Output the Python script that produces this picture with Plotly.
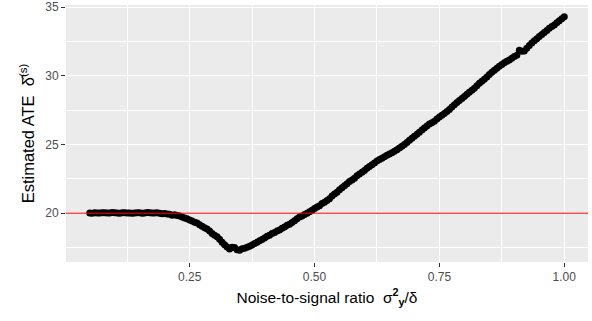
import plotly.graph_objects as go

ratio = [0.050, 0.055, 0.060, 0.065, 0.070, 0.075, 0.080, 0.085, 0.090, 0.095,
         0.100, 0.105, 0.110, 0.115, 0.120, 0.125, 0.130, 0.135, 0.140, 0.145,
         0.150, 0.155, 0.160, 0.165, 0.170, 0.175, 0.180, 0.185, 0.190, 0.195,
         0.200, 0.205, 0.210, 0.215, 0.220, 0.225, 0.230, 0.235, 0.240, 0.245,
         0.250, 0.255, 0.260, 0.265, 0.270, 0.275, 0.280, 0.285, 0.290, 0.295,
         0.300, 0.305, 0.310, 0.315, 0.320, 0.325, 0.330, 0.335, 0.340, 0.345,
         0.350, 0.355, 0.360, 0.365, 0.370, 0.375, 0.380, 0.385, 0.390, 0.395,
         0.400, 0.405, 0.410, 0.415, 0.420, 0.425, 0.430, 0.435, 0.440, 0.445,
         0.450, 0.455, 0.460, 0.465, 0.470, 0.475, 0.480, 0.485, 0.490, 0.495,
         0.500, 0.505, 0.510, 0.515, 0.520, 0.525, 0.530, 0.535, 0.540, 0.545,
         0.550, 0.555, 0.560, 0.565, 0.570, 0.575, 0.580, 0.585, 0.590, 0.595,
         0.600, 0.605, 0.610, 0.615, 0.620, 0.625, 0.630, 0.635, 0.640, 0.645,
         0.650, 0.655, 0.660, 0.665, 0.670, 0.675, 0.680, 0.685, 0.690, 0.695,
         0.700, 0.705, 0.710, 0.715, 0.720, 0.725, 0.730, 0.735, 0.740, 0.745,
         0.750, 0.755, 0.760, 0.765, 0.770, 0.775, 0.780, 0.785, 0.790, 0.795,
         0.800, 0.805, 0.810, 0.815, 0.820, 0.825, 0.830, 0.835, 0.840, 0.845,
         0.850, 0.855, 0.860, 0.865, 0.870, 0.875, 0.880, 0.885, 0.890, 0.895,
         0.900, 0.905, 0.910, 0.915, 0.920, 0.925, 0.930, 0.935, 0.940, 0.945,
         0.950, 0.955, 0.960, 0.965, 0.970, 0.975, 0.980, 0.985, 0.990, 0.995,
         1.000]
ate = [20.02, 20.00, 20.03, 20.01, 20.01, 20.04, 20.04, 20.02, 20.02, 20.05,
       20.03, 20.01, 20.00, 20.03, 20.04, 20.02, 20.02, 19.99, 20.01, 20.04,
       20.03, 20.00, 20.02, 20.05, 20.04, 20.01, 20.01, 20.03, 20.00, 19.96,
       19.97, 19.95, 19.92, 19.86, 19.88, 19.84, 19.80, 19.72, 19.65, 19.60,
       19.50, 19.44, 19.35, 19.28, 19.16, 19.05, 18.95, 18.85, 18.70, 18.52,
       18.40, 18.28, 18.10, 17.88, 17.70, 17.55, 17.40, 17.52, 17.50, 17.35,
       17.30, 17.42, 17.45, 17.52, 17.60, 17.68, 17.80, 17.88, 18.00, 18.08,
       18.20, 18.32, 18.40, 18.52, 18.60, 18.70, 18.78, 18.90, 19.00, 19.12,
       19.20, 19.32, 19.45, 19.60, 19.72, 19.80, 19.90, 20.00, 20.10, 20.22,
       20.35, 20.45, 20.55, 20.70, 20.80, 20.92, 21.05, 21.25, 21.40, 21.52,
       21.70, 21.85, 22.00, 22.15, 22.30, 22.42, 22.55, 22.72, 22.85, 22.98,
       23.10, 23.28, 23.40, 23.52, 23.65, 23.80, 23.90, 24.00, 24.10, 24.22,
       24.30, 24.40, 24.50, 24.62, 24.75, 24.88, 25.00, 25.15, 25.30, 25.45,
       25.60, 25.75, 25.90, 26.05, 26.20, 26.35, 26.50, 26.58, 26.70, 26.85,
       27.00, 27.12, 27.25, 27.40, 27.55, 27.72, 27.90, 28.05, 28.20, 28.35,
       28.50, 28.65, 28.80, 28.95, 29.10, 29.28, 29.45, 29.60, 29.75, 29.92,
       30.10, 30.25, 30.40, 30.55, 30.70, 30.82, 30.95, 31.05, 31.15, 31.28,
       31.40, 31.50, 31.85, 31.78, 31.80, 32.00, 32.20, 32.38, 32.55, 32.70,
       32.85, 33.00, 33.15, 33.30, 33.45, 33.58, 33.70, 33.85, 34.00, 34.15,
       34.30]
x_ticks = [0.25, 0.50, 0.75, 1.00]
x_labels = ["0.25", "0.50", "0.75", "1.00"]
y_ticks = [20, 25, 30, 35]
true_ate = 20

fig = go.Figure()
fig.add_trace(go.Scatter(x=ratio, y=ate, mode="markers",
                         marker=dict(color="black", size=7, line=dict(width=0)),
                         showlegend=False))
fig.add_hline(y=true_ate, line=dict(color="red", width=1))

fig.update_layout(
    width=592, height=321,
    margin=dict(l=66, r=4, t=0, b=59),
    paper_bgcolor="white", plot_bgcolor="#EBEBEB",
    font=dict(family="Liberation Sans, Arial, sans-serif"),
    xaxis=dict(range=[0.0025, 1.0475], tickvals=x_ticks, ticktext=x_labels,
               showgrid=True, gridcolor="white", gridwidth=1.2, zeroline=False,
               ticks="outside", ticklen=4, tickcolor="#333333", tickwidth=1,
               tickfont=dict(size=12, color="#4D4D4D"),
               minor=dict(tickvals=[0.125, 0.375, 0.625, 0.875], showgrid=True,
                          gridcolor="white", gridwidth=0.6, ticks=""),
               title=dict(text="Noise-to-signal ratio  σ<sup><b>2</b></sup><sub><b>y</b></sub>/δ",
                          font=dict(size=15.5, color="black"), standoff=8)),
    yaxis=dict(range=[16.45, 35.15], tickvals=y_ticks, ticklabeloverflow="allow",
               showgrid=True, gridcolor="white", gridwidth=1.2, zeroline=False,
               ticks="outside", ticklen=4, tickcolor="#333333", tickwidth=1,
               tickfont=dict(size=12, color="#4D4D4D"),
               minor=dict(tickvals=[17.5, 22.5, 27.5, 32.5], showgrid=True,
                          gridcolor="white", gridwidth=0.6, ticks=""),
               title=dict(text="Estimated ATE  δ\u0302<sup>(s)</sup>",
                          font=dict(size=16.5, color="black"), standoff=6)),
)
fig.write_html("out.html")
